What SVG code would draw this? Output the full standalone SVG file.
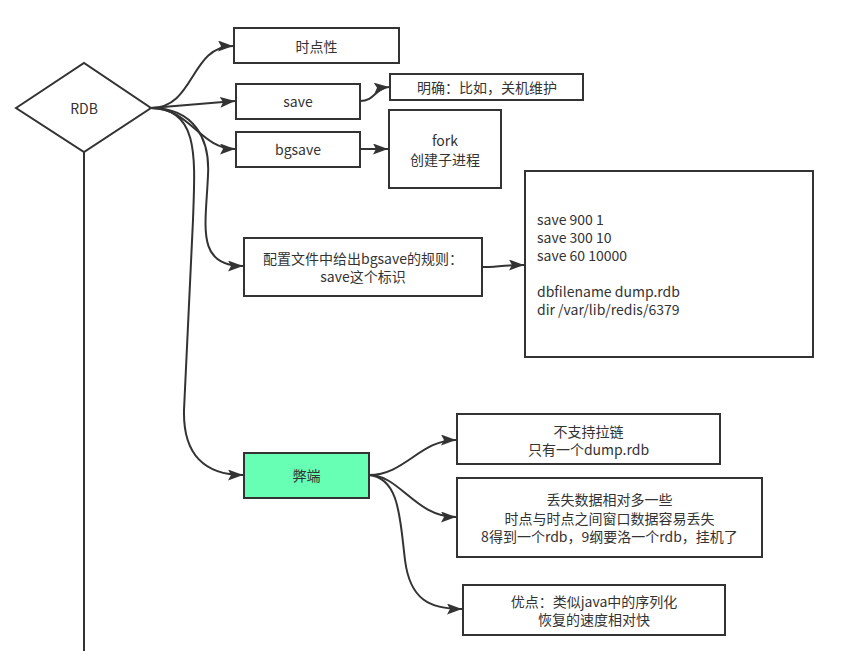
<svg xmlns="http://www.w3.org/2000/svg" width="848" height="651" viewBox="0 0 848 651">
<defs>
<marker id="arr" markerUnits="userSpaceOnUse" markerWidth="16" markerHeight="12" refX="15" refY="5.5" orient="auto">
<path d="M0,0 L15,5.5 L0,11 L3,5.5 z" fill="#333"/>
</marker>
</defs>
<style>
.box{fill:#fff;stroke:#333;stroke-width:2}
.t{font-family:"Noto Sans CJK SC","Noto Sans",sans-serif;font-size:14px;fill:#333;dominant-baseline:central;text-anchor:middle}
.l{font-family:"Noto Sans CJK SC","Noto Sans",sans-serif;font-size:14px;fill:#333;dominant-baseline:central}
.e{fill:none;stroke:#333;stroke-width:2;marker-end:url(#arr)}
</style>
<rect width="848" height="651" fill="#fff"/>
<g id="connectors">
<path class="e" d="M151,108 C195,108 190,46 233,46"/>
<path class="e" d="M151,108 L235,101"/>
<path class="e" d="M151,108 C190,108 200,149 235,149"/>
<path class="e" d="M151,108 C195,108 210,140 208,175 C206,225 195,266 243,266"/>
<path class="e" d="M151,108 C200,108 195,160 193,220 L184,410 C183,455 205,475 243,475"/>
<path class="e" d="M360,101 C375,101 375,88 389,87"/>
<path class="e" d="M360,149 L388,149"/>
<path class="e" d="M482,267 C495,267 505,265 524,265"/>
<path class="e" d="M369,475 C405,475 420,440 456,440"/>
<path class="e" d="M369,475 C400,475 415,517 456,517"/>
<path class="e" d="M369,475 C400,478 400,520 405,560 C410,600 430,609 462,609"/>
<path d="M84,152 L84,651" fill="none" stroke="#333" stroke-width="2"/>
</g>
<g id="rdb">
<polygon points="16,108 84,63 151,108 84,152" class="box"/>
<text class="t" x="84" y="108">RDB</text>
</g>
<g id="shidianxing">
<rect class="box" x="234" y="28" width="165" height="35"/>
<text class="t" x="316.5" y="46">时点性</text>
</g>
<g id="save">
<rect class="box" x="236" y="84" width="124" height="35"/>
<text class="t" x="298" y="101">save</text>
</g>
<g id="bgsave">
<rect class="box" x="236" y="132" width="124" height="35"/>
<text class="t" x="298" y="149">bgsave</text>
</g>
<g id="mingque">
<rect class="box" x="390" y="74" width="193" height="26"/>
<text class="t" x="487" y="87">明确：比如，关机维护</text>
</g>
<g id="fork">
<rect class="box" x="389" y="110" width="112" height="78"/>
<text class="t" x="445" y="140">fork</text>
<text class="t" x="445" y="159">创建子进程</text>
</g>
<g id="peizhi">
<rect class="box" x="244" y="238" width="238" height="58"/>
<text class="t" x="363" y="258">配置文件中给出bgsave的规则：</text>
<text class="t" x="363" y="276">save这个标识</text>
</g>
<g id="config">
<rect class="box" x="525" y="171" width="288" height="186"/>
<text class="l" x="537" y="219">save 900 1</text>
<text class="l" x="537" y="237">save 300 10</text>
<text class="l" x="537" y="255">save 60 10000</text>
<text class="l" x="537" y="291">dbfilename dump.rdb</text>
<text class="l" x="537" y="309">dir /var/lib/redis/6379</text>
</g>
<g id="biduan">
<rect x="244" y="453" width="125" height="45" fill="#66FFB3" stroke="#333" stroke-width="2"/>
<text class="t" x="306.5" y="475">弊端</text>
</g>
<g id="buzhichi">
<rect class="box" x="457" y="414" width="263" height="50"/>
<text class="t" x="588.5" y="431">不支持拉链</text>
<text class="t" x="588.5" y="449">只有一个dump.rdb</text>
</g>
<g id="diushi">
<rect class="box" x="457" y="478" width="305" height="79"/>
<text class="t" x="609.5" y="499">丢失数据相对多一些</text>
<text class="t" x="609.5" y="518">时点与时点之间窗口数据容易丢失</text>
<text class="t" x="609.5" y="536">8得到一个rdb，9纲要洛一个rdb，挂机了</text>
</g>
<g id="youdian">
<rect class="box" x="463" y="585" width="262" height="50"/>
<text class="t" x="594" y="601">优点：类似java中的序列化</text>
<text class="t" x="594" y="619">恢复的速度相对快</text>
</g>
</svg>
